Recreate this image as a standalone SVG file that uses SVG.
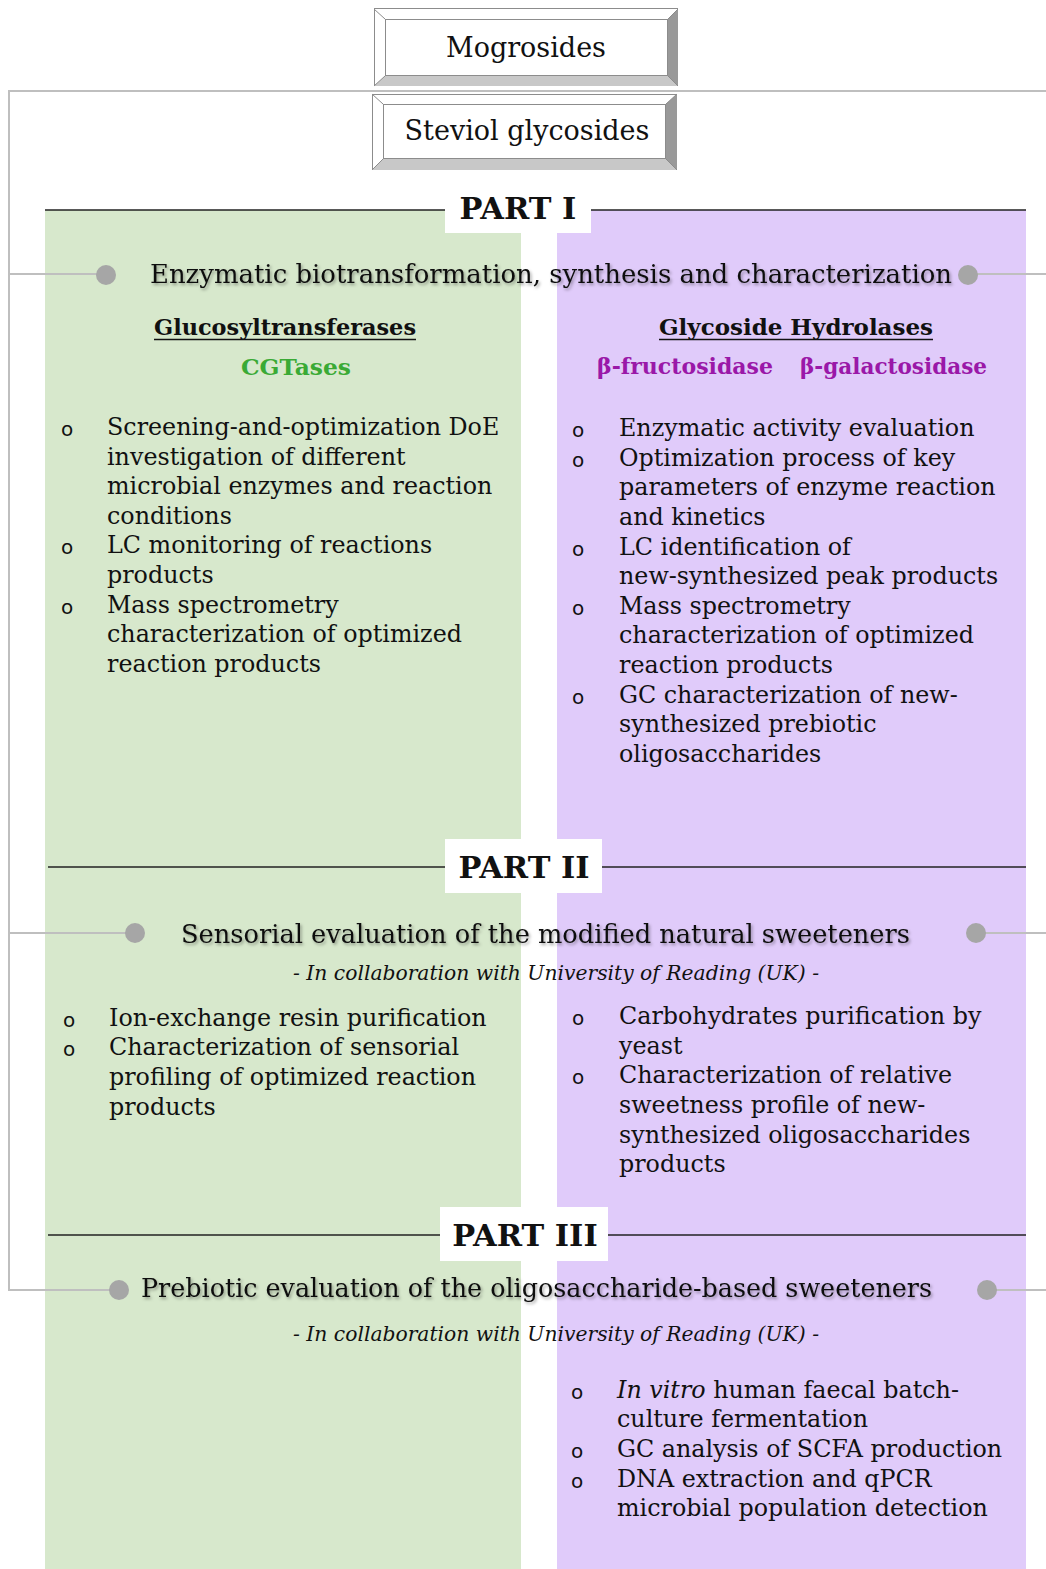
<svg xmlns="http://www.w3.org/2000/svg" width="1046" height="1569" viewBox="0 0 1046 1569">
<defs>
<style>
text{font-family:"DejaVu Serif","Liberation Serif",serif;fill:#111}
.b{font-size:23.8px}
.bul{font-size:20px;font-family:"DejaVu Sans","Liberation Sans",sans-serif}
.h{font-size:26px}
.part{font-size:30.5px;font-weight:bold;text-anchor:middle}
.sub{font-size:22px;font-weight:bold;text-anchor:middle}
.it{font-size:20px;font-style:italic;text-anchor:middle}
.conn{stroke:#bfbfbf;stroke-width:2;fill:none}
.dot{fill:#a6a6a6}
.rule{stroke:#222;stroke-width:1.5}
</style>
<filter id="sh" x="-5%" y="-30%" width="110%" height="160%">
<feDropShadow dx="1.5" dy="2" stdDeviation="1.5" flood-color="#000" flood-opacity="0.35"/>
</filter>
</defs>
<rect width="1046" height="1569" fill="#fff"/>
<g id="backgrounds">
<rect x="45" y="210" width="476" height="1359" fill="#d7e8cc"/>
<rect x="557" y="210" width="469" height="1359" fill="#e0cbfa"/>
</g>
<g id="connectors">
<path class="conn" d="M1046 91 H9 V1290 H119"/>
<path class="conn" d="M9 274 H106"/>
<path class="conn" d="M968 274 H1046"/>
<path class="conn" d="M9 933 H135"/>
<path class="conn" d="M976 933 H1046"/>
<path class="conn" d="M987 1290 H1046"/>
<circle class="dot" cx="106" cy="275" r="10"/>
<circle class="dot" cx="968" cy="275" r="10"/>
<circle class="dot" cx="135" cy="933" r="10"/>
<circle class="dot" cx="976" cy="933" r="10"/>
<circle class="dot" cx="119" cy="1290" r="10"/>
<circle class="dot" cx="987" cy="1290" r="10"/>
</g>
<g id="mogrosides">
<rect x="374.5" y="8.5" width="303" height="77" fill="#fff" stroke="#8c8c8c"/>
<polygon points="668,19 678,9 678,86 668,76" fill="#999"/>
<polygon points="385,76 668,76 678,86 374,86" fill="#c8c8c8"/>
<rect x="385.5" y="19.5" width="282" height="56" fill="#fff" stroke="#8c8c8c"/>
<line x1="374" y1="9" x2="385" y2="19" stroke="#8c8c8c"/>
<line x1="678" y1="9" x2="668" y2="19" stroke="#8c8c8c"/>
<line x1="374" y1="86" x2="385" y2="76" stroke="#8c8c8c"/>
<line x1="678" y1="86" x2="668" y2="76" stroke="#8c8c8c"/>
<text x="526" y="57" font-size="27" text-anchor="middle">Mogrosides</text>
</g>
<g id="steviol">
<rect x="372.5" y="94.5" width="304" height="75" fill="#fff" stroke="#8c8c8c"/>
<polygon points="666,104 677,94 677,170 666,159" fill="#999"/>
<polygon points="383,159 666,159 677,170 372,170" fill="#c8c8c8"/>
<rect x="383.5" y="104.5" width="282" height="54" fill="#fff" stroke="#8c8c8c"/>
<line x1="372" y1="94" x2="383" y2="104" stroke="#8c8c8c"/>
<line x1="677" y1="94" x2="666" y2="104" stroke="#8c8c8c"/>
<line x1="372" y1="170" x2="383" y2="159" stroke="#8c8c8c"/>
<line x1="677" y1="170" x2="666" y2="159" stroke="#8c8c8c"/>
<text x="527" y="140" font-size="27" text-anchor="middle">Steviol glycosides</text>
</g>
<g id="part1">
<line class="rule" x1="45" y1="210" x2="1026" y2="210"/>
<rect x="445" y="188" width="146" height="45" fill="#fff"/>
<text class="part" x="518" y="219">PART I</text>
<text class="h" x="150" y="283" textLength="802" lengthAdjust="spacingAndGlyphs" filter="url(#sh)">Enzymatic biotransformation, synthesis and characterization</text>
</g>
<g id="glucosyltransferases">
<text class="sub" x="285" y="335" textLength="262" lengthAdjust="spacingAndGlyphs">Glucosyltransferases</text>
<line x1="154" y1="339.5" x2="416" y2="339.5" stroke="#111" stroke-width="1.5"/>
<text class="sub" x="296" y="375" style="fill:#3aaa35" textLength="110" lengthAdjust="spacingAndGlyphs">CGTases</text>
<text class="bul" x="61" y="436">o</text>
<text class="b" x="107" y="435">Screening-and-optimization DoE</text>
<text class="b" x="107" y="465">investigation of different</text>
<text class="b" x="107" y="494">microbial enzymes and reaction</text>
<text class="b" x="107" y="524">conditions</text>
<text class="bul" x="61" y="554">o</text>
<text class="b" x="107" y="553">LC monitoring of reactions</text>
<text class="b" x="107" y="583">products</text>
<text class="bul" x="61" y="614">o</text>
<text class="b" x="107" y="613">Mass spectrometry</text>
<text class="b" x="107" y="642">characterization of optimized</text>
<text class="b" x="107" y="672">reaction products</text>
</g>
<g id="glycoside-hydrolases">
<text class="sub" x="796" y="335" textLength="274" lengthAdjust="spacingAndGlyphs">Glycoside Hydrolases</text>
<line x1="659" y1="339.5" x2="933" y2="339.5" stroke="#111" stroke-width="1.5"/>
<text class="sub" x="685" y="374" style="fill:#9a18a8" textLength="176" lengthAdjust="spacingAndGlyphs">β-fructosidase</text>
<text class="sub" x="893.5" y="374" style="fill:#9a18a8" textLength="187" lengthAdjust="spacingAndGlyphs">β-galactosidase</text>
<text class="bul" x="572" y="437">o</text>
<text class="b" x="619" y="436">Enzymatic activity evaluation</text>
<text class="bul" x="572" y="467">o</text>
<text class="b" x="619" y="466">Optimization process of key</text>
<text class="b" x="619" y="495">parameters of enzyme reaction</text>
<text class="b" x="619" y="525">and kinetics</text>
<text class="bul" x="572" y="556">o</text>
<text class="b" x="619" y="555">LC identification of</text>
<text class="b" x="619" y="584">new-synthesized peak products</text>
<text class="bul" x="572" y="615">o</text>
<text class="b" x="619" y="614">Mass spectrometry</text>
<text class="b" x="619" y="643">characterization of optimized</text>
<text class="b" x="619" y="673">reaction products</text>
<text class="bul" x="572" y="704">o</text>
<text class="b" x="619" y="703">GC characterization of new-</text>
<text class="b" x="619" y="732">synthesized prebiotic</text>
<text class="b" x="619" y="762">oligosaccharides</text>
</g>
<g id="part2">
<line class="rule" x1="48" y1="867" x2="1026" y2="867"/>
<rect x="445" y="839" width="157" height="54" fill="#fff"/>
<text class="part" x="524" y="878">PART II</text>
<text class="h" x="181" y="943" textLength="729" lengthAdjust="spacingAndGlyphs" filter="url(#sh)">Sensorial evaluation of the modified natural sweeteners</text>
<text class="it" x="556" y="980" textLength="526" lengthAdjust="spacingAndGlyphs">- In collaboration with University of Reading (UK) -</text>
</g>
<g id="part2-left">
<text class="bul" x="63" y="1027">o</text>
<text class="b" x="109" y="1026">Ion-exchange resin purification</text>
<text class="bul" x="63" y="1056">o</text>
<text class="b" x="109" y="1055">Characterization of sensorial</text>
<text class="b" x="109" y="1085">profiling of optimized reaction</text>
<text class="b" x="109" y="1115">products</text>
</g>
<g id="part2-right">
<text class="bul" x="572" y="1025">o</text>
<text class="b" x="619" y="1024">Carbohydrates purification by</text>
<text class="b" x="619" y="1054">yeast</text>
<text class="bul" x="572" y="1084">o</text>
<text class="b" x="619" y="1083">Characterization of relative</text>
<text class="b" x="619" y="1113">sweetness profile of new-</text>
<text class="b" x="619" y="1143">synthesized oligosaccharides</text>
<text class="b" x="619" y="1172">products</text>
</g>
<g id="part3">
<line class="rule" x1="48" y1="1235" x2="1026" y2="1235"/>
<rect x="440" y="1207" width="168" height="54" fill="#fff"/>
<text class="part" x="525" y="1246">PART III</text>
<text class="h" x="141" y="1297" textLength="791" lengthAdjust="spacingAndGlyphs" filter="url(#sh)">Prebiotic evaluation of the oligosaccharide-based sweeteners</text>
<text class="it" x="556" y="1341" textLength="526" lengthAdjust="spacingAndGlyphs">- In collaboration with University of Reading (UK) -</text>
</g>
<g id="part3-right">
<text class="bul" x="571" y="1399">o</text>
<text class="b" x="617" y="1398"><tspan font-style="italic">In vitro</tspan> human faecal batch-</text>
<text class="b" x="617" y="1427">culture fermentation</text>
<text class="bul" x="571" y="1458">o</text>
<text class="b" x="617" y="1457">GC analysis of SCFA production</text>
<text class="bul" x="571" y="1488">o</text>
<text class="b" x="617" y="1487">DNA extraction and qPCR</text>
<text class="b" x="617" y="1516">microbial population detection</text>
</g>
</svg>
